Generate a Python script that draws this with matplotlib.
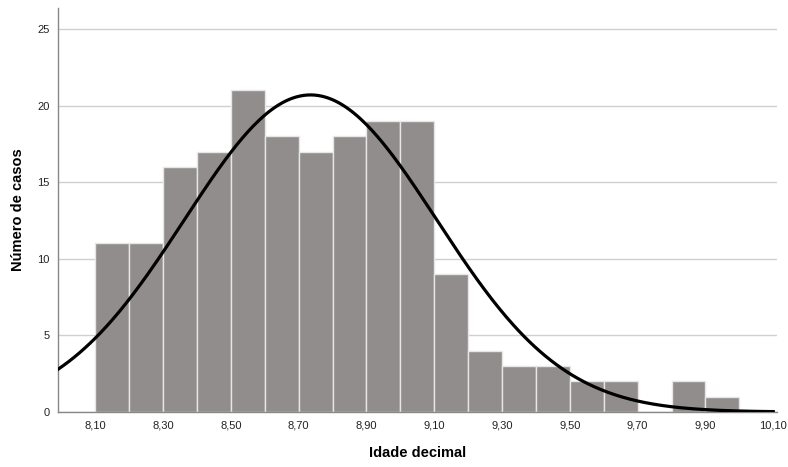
import numpy as np
import matplotlib
matplotlib.use("Agg")
import matplotlib.pyplot as plt

# histograma da idade decimal (bins de 0,1)
bin_left = [8.1, 8.2, 8.3, 8.4, 8.5, 8.6, 8.7, 8.8, 8.9, 9.0,
            9.1, 9.2, 9.3, 9.4, 9.5, 9.6, 9.7, 9.8, 9.9]
counts = [11, 11, 16, 17, 21, 18, 17, 18, 19, 19,
          9, 4, 3, 3, 2, 2, 0, 2, 1]
bin_width = 0.1

# curva normal ajustada
media = 8.735
desvio = 0.372
n_total = sum(counts)

xticks = [8.1, 8.3, 8.5, 8.7, 8.9, 9.1, 9.3, 9.5, 9.7, 9.9, 10.1]
xtick_labels = ["8,10", "8,30", "8,50", "8,70", "8,90", "9,10",
                "9,30", "9,50", "9,70", "9,90", "10,10"]
yticks = [0, 5, 10, 15, 20, 25]

plt.rcParams['font.family'] = ['Liberation Sans', 'DejaVu Sans']

fig = plt.figure(figsize=(7.88, 4.67), dpi=100)
ax = fig.add_axes([0.0736, 0.1178, 0.912, 0.865])

ax.bar(bin_left, counts, width=bin_width, align='edge',
       color='#918d8c', edgecolor='#e6e6e6', linewidth=1.0, zorder=2)

x = np.linspace(7.99, 10.10, 400)
y = n_total * bin_width / (desvio * np.sqrt(2 * np.pi)) * np.exp(-0.5 * ((x - media) / desvio) ** 2)
ax.plot(x, y, color='black', linewidth=2.3, zorder=3)

ax.set_xlim(7.99, 10.11)
ax.set_ylim(0, 26.37)
ax.set_xticks(xticks)
ax.set_xticklabels(xtick_labels)
ax.set_yticks(yticks)
ax.tick_params(length=0, labelsize=8, colors='#222222', pad=6)
ax.grid(axis='y', color='#d0d0d0', linewidth=1.0, zorder=0)
ax.set_axisbelow(True)

for s in ['top', 'right']:
    ax.spines[s].set_visible(False)
for s in ['left', 'bottom']:
    ax.spines[s].set_color('#888888')
    ax.spines[s].set_linewidth(1.0)

ax.set_xlabel("Idade decimal", fontsize=10.5, fontweight='bold', labelpad=11)
ax.set_ylabel("Número de casos", fontsize=10.5, fontweight='bold', labelpad=9)

fig.savefig("out.png", dpi=100)
